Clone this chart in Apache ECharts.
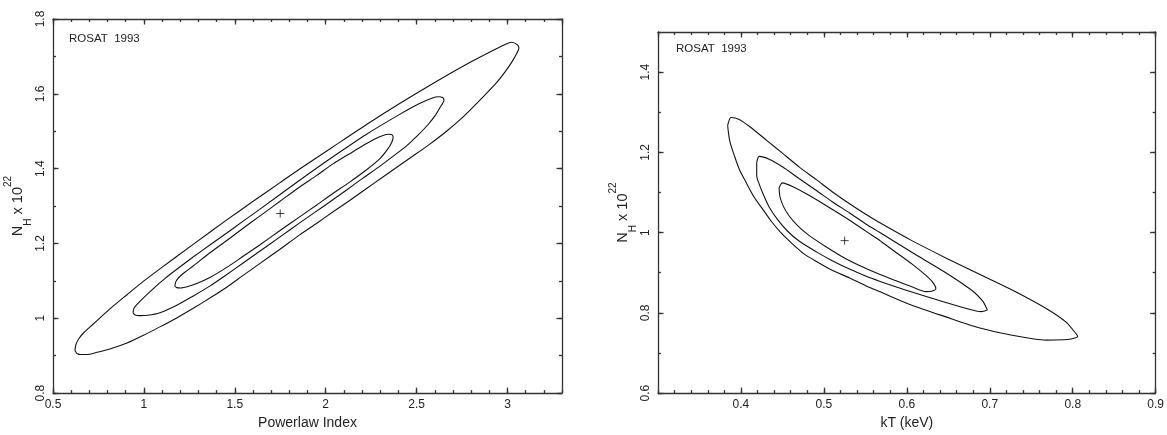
<!DOCTYPE html>
<html>
<head>
<meta charset="utf-8">
<script src="https://cdn.jsdelivr.net/npm/echarts@6/dist/echarts.min.js"></script>
<style>
  html, body { margin: 0; padding: 0; background: #fff; }
  #chart { width: 1167px; height: 435px; }
</style>
</head>
<body>
<div id="chart"></div>
<script>
// confidence contours, powerlaw fit (index, N_H)
var plOuter = [[0.621,0.914],[0.626,0.930],[0.643,0.946],[0.670,0.962],[0.720,0.984],[0.813,1.025],[0.907,1.063],[0.995,1.098],[1.088,1.132],[1.269,1.197],[1.456,1.263],[1.599,1.312],[1.747,1.362],[1.857,1.399],[2.039,1.458],[2.225,1.518],[2.407,1.574],[2.588,1.627],[2.775,1.679],[2.901,1.711],[2.984,1.731],[3.022,1.738],[3.055,1.731],[3.063,1.722],[3.050,1.707],[3.028,1.688],[2.995,1.664],[2.940,1.630],[2.846,1.582],[2.753,1.537],[2.665,1.500],[2.571,1.465],[2.478,1.433],[2.407,1.409],[2.313,1.377],[2.225,1.347],[2.132,1.315],[2.039,1.284],[1.951,1.254],[1.857,1.223],[1.747,1.184],[1.637,1.146],[1.544,1.114],[1.456,1.083],[1.363,1.054],[1.269,1.026],[1.181,1.001],[1.088,0.977],[0.995,0.954],[0.907,0.934],[0.813,0.918],[0.742,0.909],[0.687,0.903],[0.654,0.903],[0.632,0.906],[0.621,0.914]];
var plMiddle = [[0.940,1.015],[0.945,1.026],[0.962,1.037],[1.005,1.058],[1.049,1.078],[1.115,1.106],[1.181,1.131],[1.269,1.163],[1.363,1.196],[1.456,1.228],[1.544,1.259],[1.637,1.291],[1.857,1.369],[2.038,1.431],[2.225,1.492],[2.407,1.545],[2.516,1.574],[2.588,1.589],[2.621,1.592],[2.643,1.590],[2.651,1.583],[2.643,1.574],[2.626,1.561],[2.604,1.543],[2.560,1.516],[2.505,1.488],[2.445,1.461],[2.368,1.432],[2.297,1.406],[2.203,1.374],[2.115,1.343],[2.022,1.311],[1.940,1.283],[1.857,1.255],[1.747,1.217],[1.637,1.179],[1.544,1.147],[1.456,1.117],[1.363,1.086],[1.269,1.059],[1.181,1.035],[1.088,1.015],[1.022,1.008],[0.978,1.007],[0.951,1.009],[0.940,1.015]];
var plInner = [[1.170,1.086],[1.176,1.098],[1.192,1.109],[1.225,1.123],[1.269,1.139],[1.363,1.175],[1.456,1.208],[1.544,1.240],[1.637,1.273],[1.747,1.312],[1.857,1.351],[1.951,1.382],[2.038,1.412],[2.132,1.440],[2.225,1.467],[2.297,1.485],[2.341,1.492],[2.363,1.491],[2.371,1.484],[2.363,1.470],[2.341,1.452],[2.297,1.426],[2.225,1.397],[2.132,1.364],[2.038,1.333],[1.951,1.303],[1.857,1.271],[1.747,1.234],[1.637,1.196],[1.544,1.165],[1.456,1.136],[1.363,1.109],[1.291,1.093],[1.242,1.085],[1.203,1.081],[1.181,1.082],[1.170,1.086]];
var plBest = [[1.75, 1.28]];

// confidence contours, thermal fit (kT, N_H)
var ktOuter = [[0.384,1.267],[0.388,1.287],[0.398,1.282],[0.410,1.265],[0.431,1.230],[0.450,1.198],[0.470,1.164],[0.491,1.132],[0.510,1.102],[0.531,1.072],[0.551,1.045],[0.567,1.025],[0.606,0.980],[0.647,0.937],[0.687,0.897],[0.727,0.857],[0.768,0.811],[0.792,0.777],[0.804,0.748],[0.806,0.741],[0.798,0.735],[0.789,0.733],[0.768,0.732],[0.727,0.744],[0.687,0.763],[0.647,0.790],[0.606,0.819],[0.567,0.853],[0.551,0.867],[0.531,0.887],[0.510,0.906],[0.491,0.928],[0.476,0.947],[0.462,0.972],[0.449,0.998],[0.437,1.027],[0.426,1.059],[0.416,1.088],[0.407,1.122],[0.398,1.158],[0.392,1.192],[0.387,1.224],[0.385,1.248],[0.384,1.267]];
var ktMiddle = [[0.419,1.175],[0.422,1.190],[0.434,1.183],[0.450,1.164],[0.470,1.135],[0.491,1.105],[0.510,1.077],[0.531,1.049],[0.551,1.021],[0.567,1.001],[0.606,0.951],[0.647,0.900],[0.679,0.855],[0.692,0.828],[0.695,0.816],[0.697,0.808],[0.689,0.803],[0.679,0.807],[0.647,0.826],[0.606,0.852],[0.567,0.879],[0.551,0.891],[0.531,0.909],[0.510,0.930],[0.491,0.952],[0.470,0.979],[0.456,1.004],[0.444,1.033],[0.434,1.064],[0.427,1.095],[0.422,1.121],[0.419,1.142],[0.419,1.158],[0.419,1.175]];
var ktInner = [[0.446,1.112],[0.450,1.124],[0.462,1.115],[0.482,1.093],[0.503,1.067],[0.531,1.031],[0.551,1.003],[0.567,0.981],[0.582,0.958],[0.606,0.922],[0.627,0.886],[0.633,0.871],[0.635,0.860],[0.630,0.854],[0.623,0.853],[0.606,0.865],[0.587,0.880],[0.567,0.896],[0.543,0.918],[0.522,0.940],[0.503,0.964],[0.482,0.993],[0.468,1.018],[0.458,1.042],[0.451,1.066],[0.447,1.090],[0.446,1.112]];
var ktBest = [[0.525, 0.98]];

var font = '"Liberation Sans", Arial, sans-serif';
var ink = '#222';

// major + minor ticks on one side, mirrored ticks on the other side
function makeAxes(grid, min, max, major, minor, pos, farPos, label, name) {
    var base = { type: 'value', gridIndex: grid, min: min, max: max, splitLine: { show: false } };
    var line = { show: true, onZero: false, lineStyle: { color: '#333', width: 1.3 } };
    var tick = function (len) { return { show: true, inside: true, length: len, lineStyle: { color: '#333', width: 1.3 } }; };
    var main = Object.assign({}, base, {
        position: pos, interval: major, axisLine: line, axisTick: tick(5.5), axisLabel: label
    }, name);
    return [
        main,
        Object.assign({}, base, { position: pos, interval: minor, axisLine: { show: false }, axisTick: tick(3), axisLabel: { show: false } }),
        Object.assign({}, base, { position: farPos, interval: major, axisLine: line, axisTick: tick(5.5), axisLabel: { show: false } }),
        Object.assign({}, base, { position: farPos, interval: minor, axisLine: { show: false }, axisTick: tick(3), axisLabel: { show: false } })
    ];
}

function xLabel(extra) {
    return Object.assign({ margin: 6, fontSize: 12, fontFamily: font, color: ink }, extra);
}
function yLabel(extra) {
    return Object.assign({ rotate: 90, margin: 6, fontSize: 12, fontFamily: font, color: ink }, extra);
}

var nhName = {
    name: '{a|N}{sub|H}{a| x 10}{sup|22}',
    nameLocation: 'middle',
    nameGap: 20,
    nameTextStyle: {
        fontFamily: font, color: ink,
        rich: {
            a: { fontSize: 14.5, lineHeight: 30, fontFamily: font, color: ink },
            sub: { fontSize: 10, lineHeight: 10, verticalAlign: 'bottom', fontFamily: font, color: ink },
            sup: { fontSize: 10, lineHeight: 20, verticalAlign: 'top', fontFamily: font, color: ink }
        }
    }
};
function xName(text) {
    return { name: text, nameLocation: 'middle', nameGap: 18,
        nameTextStyle: { fontSize: 14, fontFamily: font, color: ink } };
}

var xAxes = makeAxes(0, 0.5, 3.3, 0.5, 0.1, 'bottom', 'top', xLabel({ showMaxLabel: false }), xName('Powerlaw Index'))
    .concat(makeAxes(1, 0.3, 0.9, 0.1, 0.02, 'bottom', 'top', xLabel({ showMinLabel: false }), xName('kT (keV)')));
var yAxes = makeAxes(0, 0.8, 1.8, 0.2, 0.1, 'left', 'right', yLabel({}), nhName)
    .concat(makeAxes(1, 0.6, 1.5, 0.2, 0.1, 'left', 'right', yLabel({ showMaxLabel: false }), nhName));

function contour(data, axis) {
    return { type: 'line', data: data, xAxisIndex: axis, yAxisIndex: axis, smooth: 0.25,
        showSymbol: false, symbol: 'none', silent: true,
        lineStyle: { color: '#111', width: 1.1 } };
}
function best(data, axis) {
    return { type: 'scatter', data: data, xAxisIndex: axis, yAxisIndex: axis,
        symbol: 'path://M0,5L10,5M5,0L5,10', symbolSize: 8,
        itemStyle: { color: 'transparent', borderColor: '#111', borderWidth: 1 } };
}

var option = {
    animation: false,
    backgroundColor: '#fff',
    grid: [
        { left: 53, top: 19, width: 509, height: 376 },
        { left: 658, top: 32, width: 499, height: 370 }
    ],
    xAxis: xAxes,
    yAxis: yAxes,
    graphic: [
        { type: 'text', left: 69, top: 33, style: { text: 'ROSAT  1993', font: '11.5px ' + font, fill: ink } },
        { type: 'text', left: 676, top: 43, style: { text: 'ROSAT  1993', font: '11.5px ' + font, fill: ink } }
    ],
    series: [
        contour(plOuter, 0), contour(plMiddle, 0), contour(plInner, 0), best(plBest, 0),
        contour(ktOuter, 4), contour(ktMiddle, 4), contour(ktInner, 4), best(ktBest, 4)
    ]
};

var chart = echarts.init(document.getElementById('chart'), null, { renderer: 'canvas' });
chart.setOption(option);
</script>
</body>
</html>
